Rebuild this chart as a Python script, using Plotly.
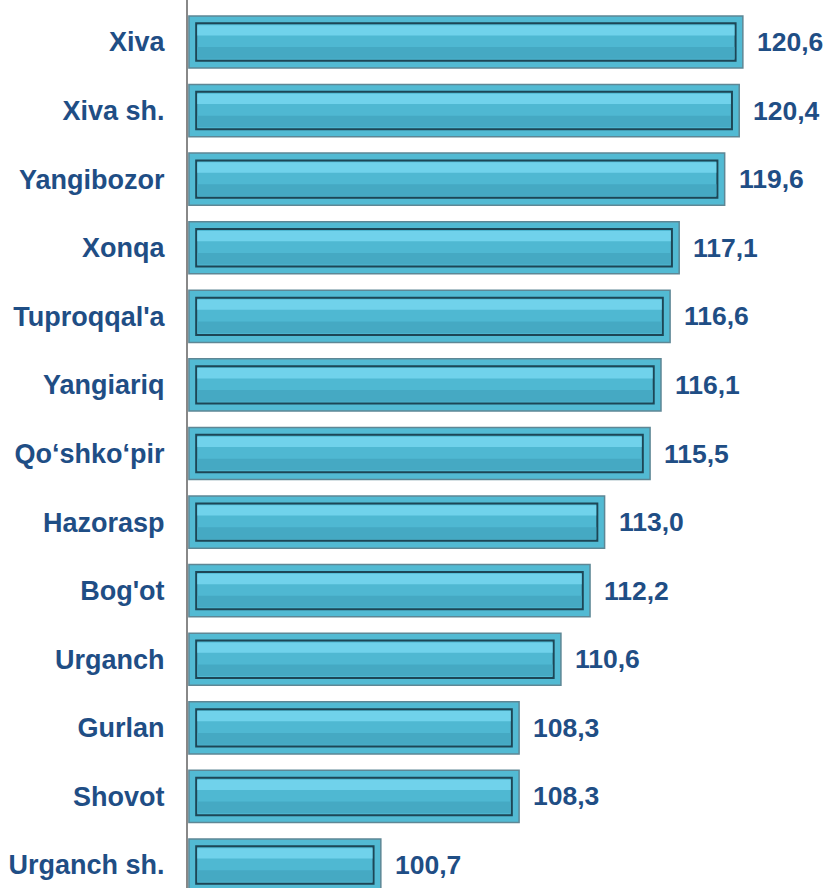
import plotly.graph_objects as go

categories = ["Xiva", "Xiva sh.", "Yangibozor", "Xonqa", "Tuproqqal'a", "Yangiariq",
              "Qo‘shko‘pir", "Hazorasp", "Bog'ot", "Urganch", "Gurlan", "Shovot", "Urganch sh."]
values = [120.6, 120.4, 119.6, 117.1, 116.6, 116.1, 115.5, 113.0, 112.2, 110.6, 108.3, 108.3, 100.7]
value_labels = [f"{v:.1f}".replace(".", ",") for v in values]

x_start = 90.1
x_end = 125.28
base = 90.15
inset = 0.4

label_color = "#1F4E85"
font_family = "Liberation Sans, Arial, sans-serif"

fig = go.Figure()

# outer frame of each bar
fig.add_trace(go.Bar(
    y=categories, x=[v - base for v in values], base=base, orientation="h",
    width=0.76,
    marker=dict(color="#52BAD3", line=dict(color="#5E8795", width=1.5)),
    hoverinfo="skip", showlegend=False,
))
# inner panel
fig.add_trace(go.Bar(
    y=categories, x=[v - base - 2 * inset for v in values], base=base + inset, orientation="h",
    width=0.545,
    marker=dict(color="#4FB8D2", line=dict(color="#1D4656", width=2)),
    hoverinfo="skip", showlegend=False,
))
# highlight band in upper part of inner panel
fig.add_trace(go.Bar(
    y=categories, x=[v - base - 2 * inset - 0.12 for v in values], base=base + inset + 0.06, orientation="h",
    width=0.15, offset=-0.245,
    marker=dict(color="#70D2EB", line=dict(width=0)),
    hoverinfo="skip", showlegend=False,
))
# shaded band in lower part of inner panel
fig.add_trace(go.Bar(
    y=categories, x=[v - base - 2 * inset - 0.12 for v in values], base=base + inset + 0.06, orientation="h",
    width=0.17, offset=0.075,
    marker=dict(color="#45A9C3", line=dict(width=0)),
    hoverinfo="skip", showlegend=False,
))

for c, v, t in zip(categories, values, value_labels):
    fig.add_annotation(x=v, y=c, text=f"<b>{t}</b>", showarrow=False,
                       xanchor="left", xshift=12, yshift=0,
                       font=dict(size=26.5, color=label_color, family=font_family))

fig.update_layout(
    width=828, height=888,
    margin=dict(l=188, r=0, t=0, b=0),
    paper_bgcolor="white", plot_bgcolor="white",
    barmode="overlay",
    xaxis=dict(range=[x_start, x_end], visible=False, showgrid=False, zeroline=False),
    yaxis=dict(
        categoryorder="array", categoryarray=categories,
        range=[12.335, -0.612],
        automargin=False,
        showline=True, linecolor="#888888", linewidth=2,
        showgrid=False, zeroline=False,
        ticks="", ticklabelstandoff=16,
        tickfont=dict(size=27, color=label_color, family=font_family, weight="bold"),
    ),
)

fig.write_html("out.html", config={"displayModeBar": False},
               post_script="document.body.style.margin='0';")
